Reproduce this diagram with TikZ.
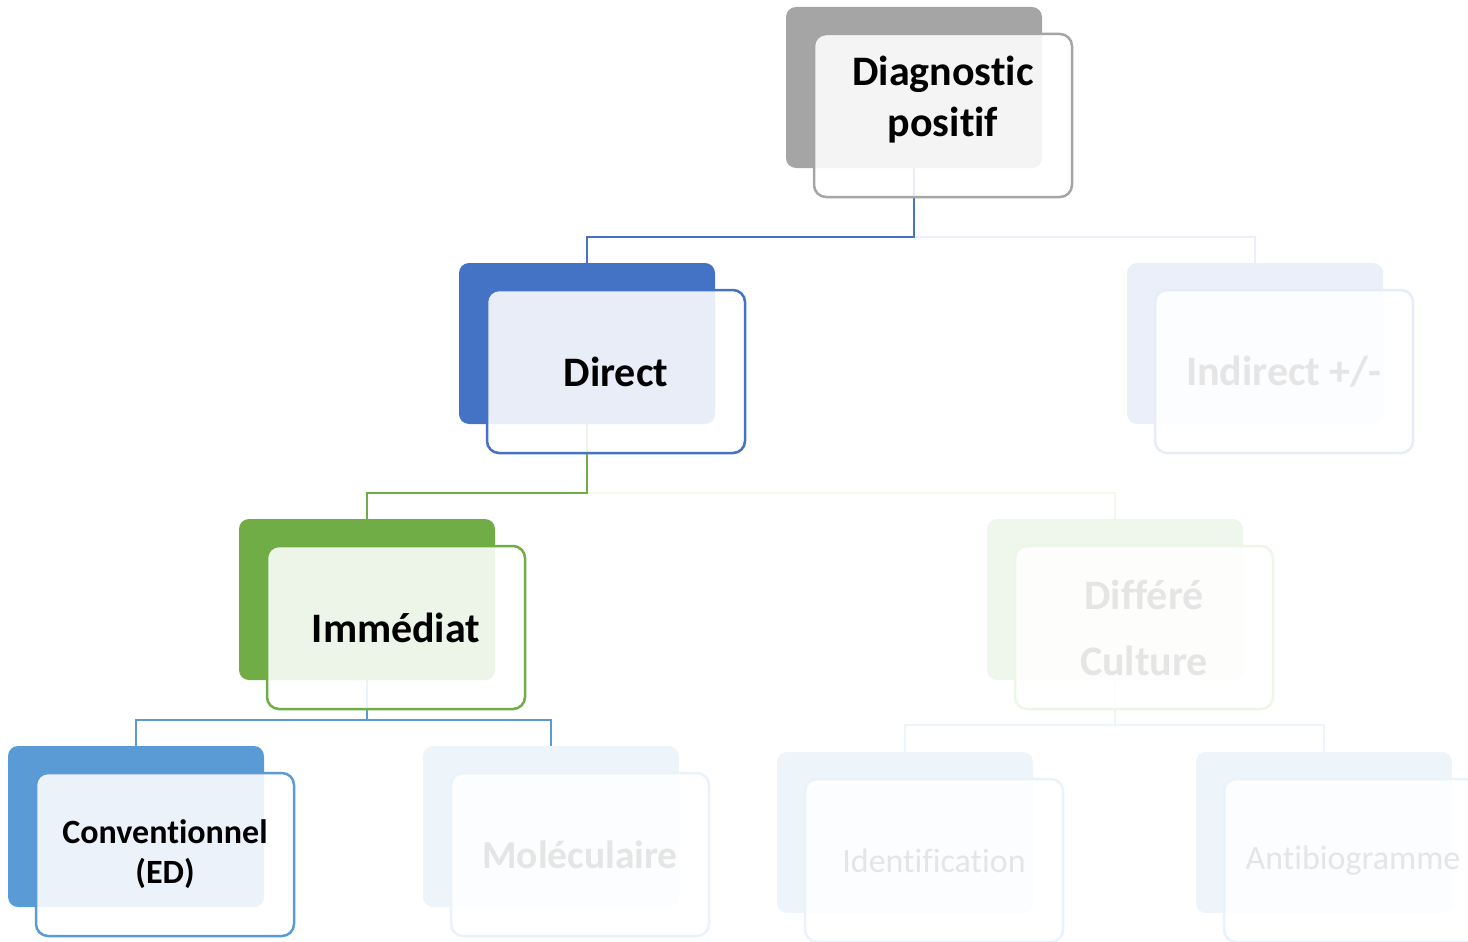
\documentclass[tikz,border=0pt]{standalone}
\usepackage{fontspec}
\setmainfont{Carlito}[Ligatures=NoCommon]
\usetikzlibrary{calc,backgrounds}
\definecolor{smgray}{HTML}{A5A5A5}
\definecolor{smblue}{HTML}{4472C4}
\definecolor{smgreen}{HTML}{70AD47}
\definecolor{smsky}{HTML}{5B9BD5}
\newcommand{\bigfont}{\fontsize{42}{51}\selectfont\bfseries}
\newcommand{\midfont}{\fontsize{39.5}{47}\selectfont\bfseries}
\newcommand{\smallfont}{\fontsize{34}{40}\selectfont\bfseries}
\newcommand{\thinfont}{\fontsize{34}{40}\selectfont}
\newcommand{\cardpair}[7]{
	\node[backcard, fill=#3] (#1b) at (#2) {};
	\node[frontcard, draw=#4, text=#5, #6] (#1) at ($(#2)+(29,28)$) {#7};
}

\begin{document}
\begin{tikzpicture}[x=1pt,y=-1pt,
	backcard/.style={rounded corners=10pt, minimum width=256pt, minimum height=161pt, inner sep=0pt},
	frontcard/.style={rounded corners=12pt, minimum width=258pt, minimum height=163pt, inner sep=0pt,
		line width=2.5pt, fill=white, fill opacity=0.88, text opacity=1, align=center},
	link/.style={line width=2.5pt}]
	\useasboundingbox (0,0) rectangle (1468,942);

	\cardpair{diag}{914,87.5}{smgray}{smgray}{black}{font=\bigfont}{\raisebox{15pt}[\height][\depth]{\begin{tabular}{@{}c@{}}Diagnostic\\positif\end{tabular}}}
	\cardpair{dir}{587,343.5}{smblue}{smblue}{black}{font=\bigfont}{Direct}
	\cardpair{ind}{1255,343.5}{smblue!11}{smblue!13}{black!10}{font=\bigfont}{Indirect +/-}
	\cardpair{imm}{367,599.5}{smgreen}{smgreen}{black}{font=\bigfont}{Immédiat}
	\cardpair{dif}{1115,599.5}{smgreen!11}{smgreen!12}{black!10}{font=\bigfont}{Différé\\[15pt]Culture}
	\cardpair{conv}{136,826.5}{smsky}{smsky}{black}{font=\smallfont}{Conventionnel\\(ED)}
	\cardpair{mol}{551,826.5}{smsky!11}{smsky!13}{black!10}{font=\midfont}{Moléculaire}
	\cardpair{ident}{905,832.5}{smsky!11}{smsky!13}{black!10}{font=\thinfont}{Identification}
	\cardpair{anti}{1324,832.5}{smsky!11}{smsky!13}{black!10}{font=\thinfont}{Antibiogramme}

	\begin{scope}[on background layer]
	\draw[link, smblue!11] (diagb.south) -- ++(0,69) -| (indb.north);
	\draw[link, smblue] (diagb.south) -- ++(0,69) -| (dirb.north);
	\draw[link, smgreen!9] (dirb.south) -- ++(0,69) -| (difb.north);
	\draw[link, smgreen] (dirb.south) -- ++(0,69) -| (immb.north);
	\draw[link, smsky] (immb.south) -- ++(0,40) -| (convb.north);
	\draw[link, smsky] (immb.south) -- ++(0,40) -| (molb.north);
	\draw[link, smsky!11] (difb.south) -- ++(0,45) -| (identb.north);
	\draw[link, smsky!11] (difb.south) -- ++(0,45) -| (antib.north);
	\end{scope}
\end{tikzpicture}
\end{document}
